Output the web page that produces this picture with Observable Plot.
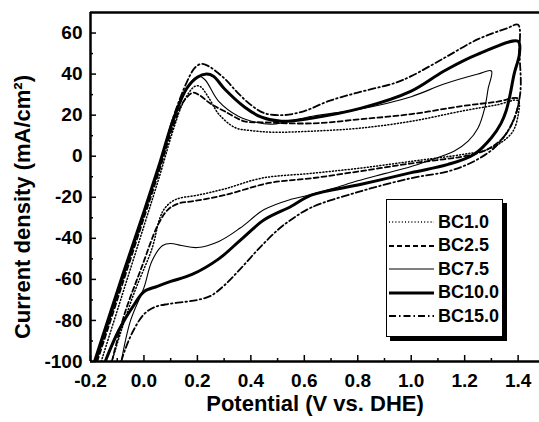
<!DOCTYPE html>
<html>
<head>
<meta charset="utf-8">
<script src="https://cdn.jsdelivr.net/npm/d3@7"></script>
<script src="https://cdn.jsdelivr.net/npm/@observablehq/plot@0.6"></script>
<style>
  html, body { margin: 0; padding: 0; background: #fff; }
  #wrap { position: relative; width: 539px; height: 422px; font-family: "Liberation Sans", Arial, sans-serif; }
  #legend { position: absolute; left: 386px; top: 199px; width: 115px; height: 136px; border: 1.5px solid #000; background: #fff; box-shadow: 4px 4px 0 #000; }
  .row { position: absolute; left: 0; height: 24px; display: flex; align-items: center; }
  .row svg { display: block; margin-left: 1px; }
  .row span { font-weight: bold; font-size: 18px; margin-left: 4px; color: #000; }
</style>
</head>
<body>
<div id="wrap"><div id="chart"></div><div id="legend"></div></div>
<script>
// ---- axes ----
const xDomain = [-0.2, 1.48];
const yDomain = [-100, 70];
const xMajor = [-0.2, 0.0, 0.2, 0.4, 0.6, 0.8, 1.0, 1.2, 1.4];
const xMinor = [-0.1, 0.1, 0.3, 0.5, 0.7, 0.9, 1.1, 1.3];
const yMajor = [-100, -80, -60, -40, -20, 0, 20, 40, 60];
const yMinor = [-90, -70, -50, -30, -10, 10, 30, 50];
const xTitle = "Potential (V vs. DHE)";
const yTitle = "Current density (mA/cm²)";
const seriesNames = ["BC1.0", "BC2.5", "BC7.5", "BC10.0", "BC15.0"];

// ---- series (potential V, current density mA/cm2), in scan order ----
const bc10V = [-0.16, -0.08, 0.0, 0.06, 0.11, 0.15, 0.19, 0.21, 0.24, 0.28, 0.34, 0.40, 0.48, 0.63, 0.81, 1.0, 1.19, 1.32, 1.40, 1.40, 1.38, 1.34, 1.28, 1.2, 1.0, 0.81, 0.63, 0.44, 0.30, 0.2, 0.12, 0.08, 0.06, 0.03, -0.035, -0.085, -0.12];
const bc10J = [-100, -67, -34, -9, 13, 27, 34, 34, 29, 20.5, 14, 12.5, 11.7, 12.2, 13.7, 17, 22, 25, 27, 20, 12, 7, 3, 1, -2.5, -5.8, -8.3, -10.7, -16, -19, -21, -25, -30, -45, -66, -85, -100];

const bc25V = [-0.175, -0.08, 0.0, 0.06, 0.11, 0.15, 0.185, 0.21, 0.25, 0.30, 0.376, 0.44, 0.63, 0.81, 1.0, 1.19, 1.32, 1.40, 1.395, 1.37, 1.336, 1.28, 1.2, 1.12, 1.0, 0.81, 0.63, 0.47, 0.30, 0.18, 0.13, 0.09, 0.054, -0.01, -0.073, -0.12];
const bc25J = [-100, -62, -30, -6, 15, 27, 31, 29.5, 25.5, 22, 17, 16.5, 16, 18, 20.5, 24.4, 26.5, 28, 22, 14, 8, 3, 0, -1.5, -3.5, -7.3, -10.7, -13, -19, -22, -23, -26, -33, -54.6, -77, -100];

const bc75V = [-0.18, -0.08, 0.0, 0.06, 0.11, 0.16, 0.19, 0.207, 0.23, 0.278, 0.353, 0.42, 0.48, 0.63, 0.81, 1.0, 1.12, 1.25, 1.30, 1.288, 1.275, 1.25, 1.213, 1.16, 1.06, 1.0, 0.9, 0.8, 0.7, 0.6, 0.55, 0.45, 0.36, 0.28, 0.2, 0.14, 0.1, 0.07, 0.03, 0.0, -0.05, -0.085];
const bc75J = [-100, -60, -28, -4, 17, 33, 38, 39, 37, 27, 19.5, 16.5, 15.6, 19.5, 23, 29, 35, 40, 41.5, 33, 23.4, 13.7, 7.3, 2.4, -2.4, -5, -8.5, -12, -16, -19.5, -21, -26, -35, -41.5, -44.5, -43.5, -42.5, -43.5, -51, -64, -80, -100];

const bc100V = [-0.185, -0.08, 0.0, 0.06, 0.11, 0.16, 0.2, 0.234, 0.26, 0.30, 0.376, 0.44, 0.514, 0.626, 0.813, 1.0, 1.123, 1.25, 1.40, 1.405, 1.385, 1.37, 1.355, 1.336, 1.30, 1.236, 1.138, 1.0, 0.813, 0.626, 0.55, 0.45, 0.36, 0.28, 0.18, 0.1, 0.05, 0.0, -0.035, -0.095, -0.145];
const bc100J = [-100, -58, -27, -3, 18, 33, 38.5, 40, 39, 33, 24, 19, 17, 18.5, 23.4, 31.7, 41.5, 49.7, 56, 50, 40, 30, 22, 16, 9, 1, -4, -8, -13.7, -19, -24.5, -31, -41, -50, -57.6, -61, -63.4, -66, -72, -85, -100];

const bc150V = [-0.18, -0.08, 0.0, 0.06, 0.11, 0.16, 0.19, 0.215, 0.24, 0.30, 0.35, 0.40, 0.45, 0.52, 0.6, 0.69, 0.8, 0.937, 1.0, 1.123, 1.25, 1.36, 1.40, 1.405, 1.41, 1.405, 1.39, 1.36, 1.31, 1.236, 1.14, 1.0, 0.813, 0.626, 0.55, 0.5, 0.43, 0.36, 0.3, 0.25, 0.2, 0.15, 0.09, 0.04, 0.0, -0.04, -0.07, -0.085];
const bc150J = [-100, -60, -28, -4, 19, 36, 43, 45, 44, 38, 31, 25, 21, 20, 22, 26.8, 31, 35.6, 39, 47.8, 57, 62.4, 64, 50, 35, 28, 20, 12, 4, -2.4, -7.3, -10.7, -17, -25, -31, -36, -45, -55, -63, -68, -70, -71, -72, -73.5, -77, -85, -94, -100];

const seriesV = [bc10V, bc25V, bc75V, bc100V, bc150V];
const seriesJ = [bc10J, bc25J, bc75J, bc100J, bc150J];
const seriesStyle = [
  {strokeWidth: 1.5, strokeDasharray: "1,2.2"},
  {strokeWidth: 1.8, strokeDasharray: "5,3"},
  {strokeWidth: 1.1, strokeDasharray: null},
  {strokeWidth: 3, strokeDasharray: null},
  {strokeWidth: 1.8, strokeDasharray: "7,3,1.5,3"}
];

const lineMarks = seriesNames.map((name, k) => {
  const data = seriesV[k].map((v, i) => ({v, j: seriesJ[k][i]}));
  return Plot.line(data, {x: "v", y: "j", stroke: "#000", curve: "catmull-rom", clip: true,
    strokeWidth: seriesStyle[k].strokeWidth, strokeDasharray: seriesStyle[k].strokeDasharray || undefined});
});

const chart = Plot.plot({
  width: 539,
  height: 422,
  marginLeft: 90,
  marginRight: 0,
  marginTop: 12,
  marginBottom: 61,
  style: {fontFamily: "'Liberation Sans', Arial, sans-serif", fontSize: "19px", fontWeight: "bold", color: "#000", background: "#fff"},
  x: {domain: xDomain, label: null},
  y: {domain: yDomain, label: null},
  marks: [
    ...lineMarks,
    Plot.axisX(xMajor, {tickSize: -6, tickPadding: 18, tickFormat: d => d.toFixed(1), label: null, strokeWidth: 1.5, fontSize: 19, fontWeight: "bold"}),
    Plot.axisX(xMinor, {tickSize: -3, tickFormat: () => "", label: null, strokeWidth: 1.5}),
    Plot.axisY(yMajor, {tickSize: -6, tickPadding: 14, tickFormat: d => String(d), label: null, strokeWidth: 1.5, fontSize: 19, fontWeight: "bold"}),
    Plot.axisY(yMinor, {tickSize: -3, tickFormat: () => "", label: null, strokeWidth: 1.5}),
    Plot.ruleY([yDomain[0]], {strokeWidth: 2.5}),
    Plot.ruleY([yDomain[1]], {strokeWidth: 2.5}),
    Plot.ruleX([xDomain[0]], {strokeWidth: 2.5}),
    Plot.text([xTitle], {frameAnchor: "bottom", dy: 42, lineAnchor: "middle", textAnchor: "middle", fontSize: 22, fontWeight: "bold"}),
    Plot.text([yTitle], {frameAnchor: "left", rotate: -90, dx: -68, dy: 20, lineAnchor: "middle", textAnchor: "middle", fontSize: 22, fontWeight: "bold"})
  ]
});
document.getElementById("chart").appendChild(chart);

// ---- legend ----
const legend = document.getElementById("legend");
seriesNames.forEach((name, k) => {
  const row = document.createElement("div");
  row.className = "row";
  row.style.top = (10 + k * 23.5) + "px";
  const st = seriesStyle[k];
  row.innerHTML = `<svg width="46" height="24"><line x1="1" x2="46" y1="12" y2="12" stroke="#000" stroke-width="${st.strokeWidth}" ${st.strokeDasharray ? `stroke-dasharray="${st.strokeDasharray}"` : ""}/></svg><span>${name}</span>`;
  legend.appendChild(row);
});
</script>
</body>
</html>
